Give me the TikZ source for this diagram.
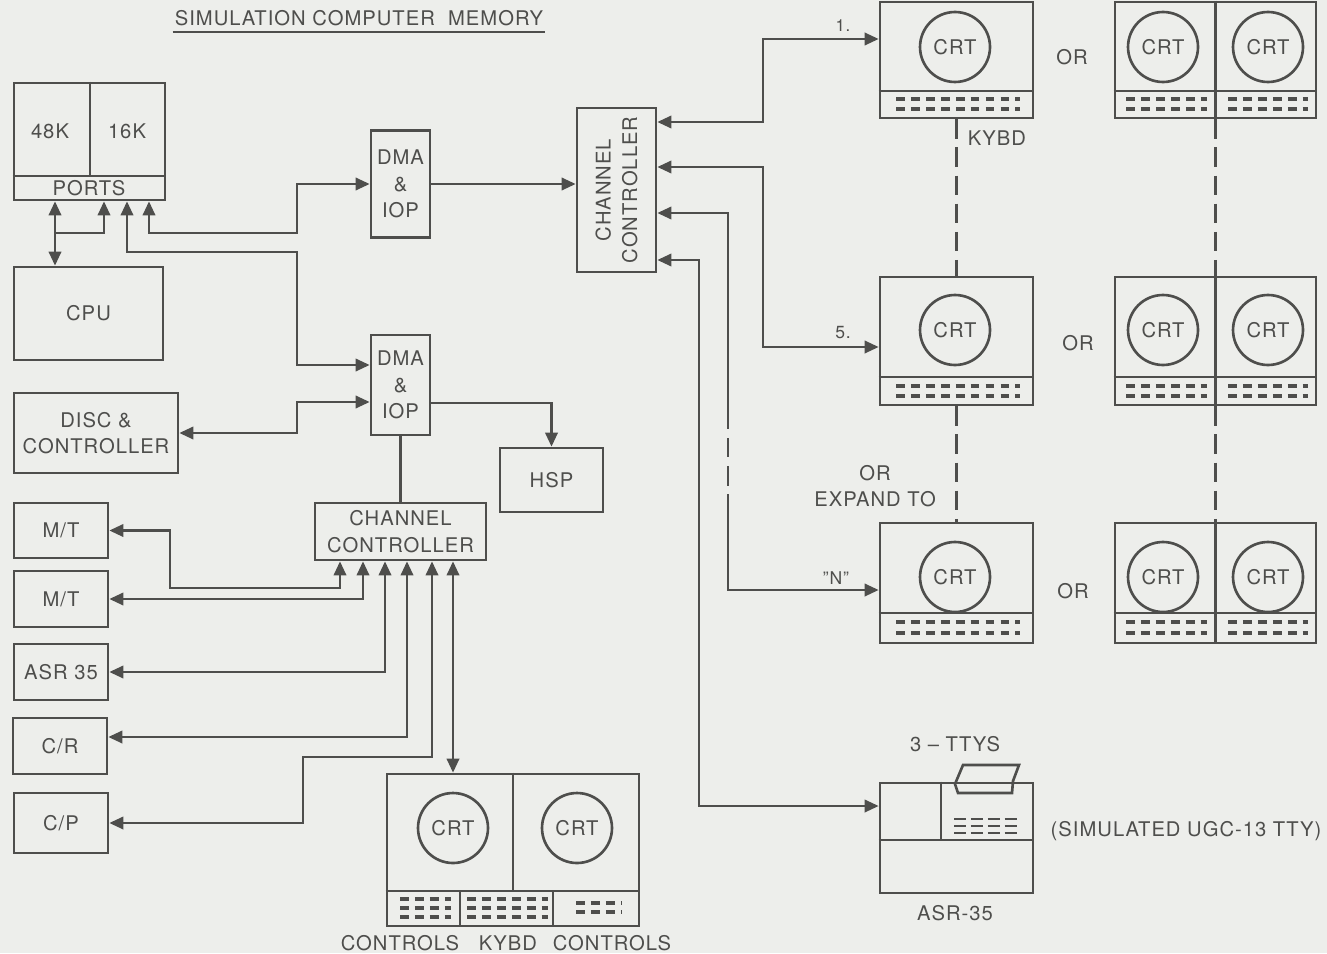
\documentclass[tikz,border=0pt]{standalone}
\usepackage{fontspec}
\setmainfont{TeX Gyre Heros}[LetterSpace=5]
\usetikzlibrary{arrows.meta, calc}
\definecolor{figL}{RGB}{78,78,76}
\definecolor{figBg}{RGB}{237,238,235}
\tikzset{
  box/.style={draw=figL, line width=1.5pt, inner sep=0pt, align=center},
  scr/.style={draw=figL, line width=1.5pt, circle, inner sep=0pt, minimum size=1.4cm},
  link/.style={draw=figL, line width=1.5pt},
  tie/.style={draw=figL, line width=1.4pt, dash pattern=on 11pt off 5pt},
  kbd/.style={draw=figL, line width=1.8pt, dash pattern=on 5pt off 3.5pt}
}

\begin{document}
\begin{tikzpicture}[x=0.02cm, y=-0.02cm, >={Triangle[length=8pt,width=7pt]},
  every node/.style={text=figL, font=\fontsize{11.5}{15}\selectfont}]
\fill[figBg] (0,0) rectangle (1327,953);
\useasboundingbox (0,0) rectangle (1327,953);
% ======== LEFT: memory, cpu, dma ========
\node[inner sep=1pt] (title) at (359,18) {SIMULATION COMPUTER\ \ MEMORY};
\draw[link, line width=1pt] ([yshift=-2.5pt]title.south west) -- ([yshift=-2.5pt]title.south east);
\node[box, minimum width=3.02cm, minimum height=2.34cm] (mem) at (89.5,141.5) {};
\draw[link] (90,0 |- mem.north) -- (90,176);
\draw[link] (mem.west |- 0,176) -- (mem.east |- 0,176);
\node (k48) at (50,131) {48K};
\node (k16) at (127,131) {16K};
\node (ports) at (89,188) {PORTS};
\node[box, minimum width=2.98cm, minimum height=1.86cm] (cpu) at (88.5,313.5) {CPU};
\node[box, minimum width=1.18cm, minimum height=2.14cm] (dmaA) at (400.5,184) {DMA\\\&\\IOP};
\node[box, minimum width=1.18cm, minimum height=2.0cm] (dmaB) at (400.5,385) {DMA\\\&\\IOP};
\node[box, minimum width=3.28cm, minimum height=1.6cm] (disc) at (96,433) {DISC \&\\CONTROLLER};
\node[box, minimum width=2.06cm, minimum height=1.28cm] (hsp) at (551.5,480) {HSP};
\node[box, minimum width=3.42cm, minimum height=1.14cm] (ccB) at (400.5,531.5) {CHANNEL\\CONTROLLER};
% ports lines
\draw[link, <->] (55,0 |- mem.south) -- (55,0 |- cpu.north);
\draw[link, ->] (55,233) -| (104,0 |- mem.south);
\draw[link, <->] (149,0 |- mem.south) |- (297,233) |- (dmaA.west);
\draw[link, <->] (127,0 |- mem.south) |- (297,252) |- ([yshift=0.4cm]dmaB.west);
\draw[link, <->] (disc.east) -- (297,0 |- disc.east) |- ([yshift=-0.34cm]dmaB.west);
\draw[link, ->] ([yshift=-0.36cm]dmaB.east) -| (hsp.north);
\draw[link] (dmaB.south) -- (ccB.north);
% ======== BOTTOM LEFT: peripherals ========
\node[box, minimum width=1.88cm, minimum height=1.1cm] (mt1) at (61,530.5) {M/T};
\node[box, minimum width=1.88cm, minimum height=1.12cm] (mt2) at (61,599) {M/T};
\node[box, minimum width=1.88cm, minimum height=1.12cm] (asr) at (61,672) {ASR 35};
\node[box, minimum width=1.88cm, minimum height=1.12cm] (cr) at (60,746) {C/R};
\node[box, minimum width=1.88cm, minimum height=1.2cm] (cp) at (61,823) {C/P};
\draw[link, <->] (340,0 |- ccB.south) |- (170,588) |- (mt1.east);
\draw[link, <->] (363,0 |- ccB.south) |- (mt2.east);
\draw[link, <->] (385,0 |- ccB.south) |- (asr.east);
\draw[link, <->] (407,0 |- ccB.south) |- ([yshift=0.18cm]cr.east);
\draw[link, <->] (432,0 |- ccB.south) |- (303,757) |- (cp.east);
% console with two crts
\node[box, minimum width=5.04cm, minimum height=3.04cm] (con) at (513,850) {};
\draw[link] (con.north) -- (513,891);
\draw[link] (con.west |- 0,891) -- (con.east |- 0,891);
\draw[link] (460,891) -- (460,0 |- con.south);
\draw[link] (553,891) -- (553,0 |- con.south);
\node[scr] (conL) at (453,828) {CRT};
\node[scr] (conR) at (577,828) {CRT};
\foreach \y in {899,908,917} {
  \draw[kbd] (400,\y) -- (451,\y);
  \draw[kbd] (467,\y) -- (548,\y);
}
\foreach \y in {903,912} \draw[kbd] (576,\y) -- (622,\y);
\node (ctlL) at (400,943) {CONTROLS};
\node (kbdL) at (508,943) {KYBD};
\node (ctlR) at (612,943) {CONTROLS};
\draw[link, <->] (453,0 |- ccB.south) -- (453,0 |- con.north);
% ======== RIGHT: channel controller and crt stations ========
\node[box, minimum width=1.58cm, minimum height=3.28cm] (ccA) at (616.5,190) {};
\node[rotate=90, align=center] (ccAtxt) at (ccA.center) {CHANNEL\\CONTROLLER};
\draw[link, ->] (dmaA.east) -- (dmaA.east -| ccA.west);
% rows: a = 1., b = 5., c = "N"
\foreach \n/\yt/\yu/\kb/\cy/\ra/\rb in {a/2/118/91/47/99/109, b/277/405/377/330/386/396, c/523/643/613/577/622/633} {
  \node[box, minimum width=3.06cm, minimum height={(\yu-\yt)*0.02cm}] (crt\n) at (956.5,{(\yt+\yu)/2}) {};
  \draw[link] (crt\n.west |- 0,\kb) -- (crt\n.east |- 0,\kb);
  \node[scr] (scr\n) at (955,\cy) {CRT};
  \node[box, minimum width=4.02cm, minimum height={(\yu-\yt)*0.02cm}] (dbl\n) at (1215.5,{(\yt+\yu)/2}) {};
  \draw[link] (dbl\n.north) -- (dbl\n.south);
  \draw[link] (dbl\n.west |- 0,\kb) -- (dbl\n.east |- 0,\kb);
  \node[scr] (scrL\n) at (1163,\cy) {CRT};
  \node[scr] (scrR\n) at (1268,\cy) {CRT};
  \foreach \y in {\ra,\rb} {
    \draw[kbd] (896,\y) -- (1020,\y);
    \draw[kbd] (1126,\y) -- (1207,\y);
    \draw[kbd] (1228,\y) -- (1308,\y);
  }
}
\node (orA) at (1072,57) {OR};
\node (orB) at (1078,343) {OR};
\node (orC) at (1073,591) {OR};
\node (kybd) at (997,138) {KYBD};
\node[align=center] (expand) at (875,486) {OR\\EXPAND TO};
\draw[tie] (crta.south) -- (crtb.north);
\draw[tie] (crtb.south) -- (crtc.north);
\draw[tie] (dbla.south) -- (dblb.north);
\draw[tie] (dblb.south) -- (dblc.north);
% tty
\node[box, minimum width=3.06cm, minimum height=2.2cm] (tty) at (956.5,838) {};
\draw[link] (941,0 |- tty.north) -- (941,840);
\draw[link] (tty.west |- 0,840) -- (tty.east |- 0,840);
\draw[link] (963,765) -- (1019,765) -- (1013,781) -- (1012,793) -- (958,793) -- (955,784) -- cycle;
\foreach \y in {819,826,833} \draw[draw=figL, line width=1.4pt, dash pattern=on 6.8pt off 2.8pt] (954,\y) -- (1018,\y);
\node (ttys) at (955,744) {3 – TTYS};
\node (asrlbl) at (955,913) {ASR-35};
\node (simlbl) at (1186,831) {(SIMULATED UGC-13 TTY)};
% links from channel controller
\draw[link, <->] (ccA.east |- 0,122) -| (763,39) -- (crta.west |- 0,39);
\draw[link, <->] (ccA.east |- 0,167) -| (763,347) -- (crtb.west |- 0,347);
\draw[link, <-] (ccA.east |- 0,213) -| (728,410);
\draw[tie] (728,410) -- (728,505);
\draw[link, ->] (728,505) |- (crtc.west |- 0,590);
\draw[link, <->] (ccA.east |- 0,260) -| (699,806) -- (tty.west |- 0,806);
\node[font=\fontsize{9.5}{11}\selectfont] (one) at (843,26) {1.};
\node[font=\fontsize{10}{11}\selectfont] (five) at (843,333) {5.};
\node[font=\fontsize{10}{11}\selectfont] (nn) at (836,578) {''N''};
\end{tikzpicture}
\end{document}
